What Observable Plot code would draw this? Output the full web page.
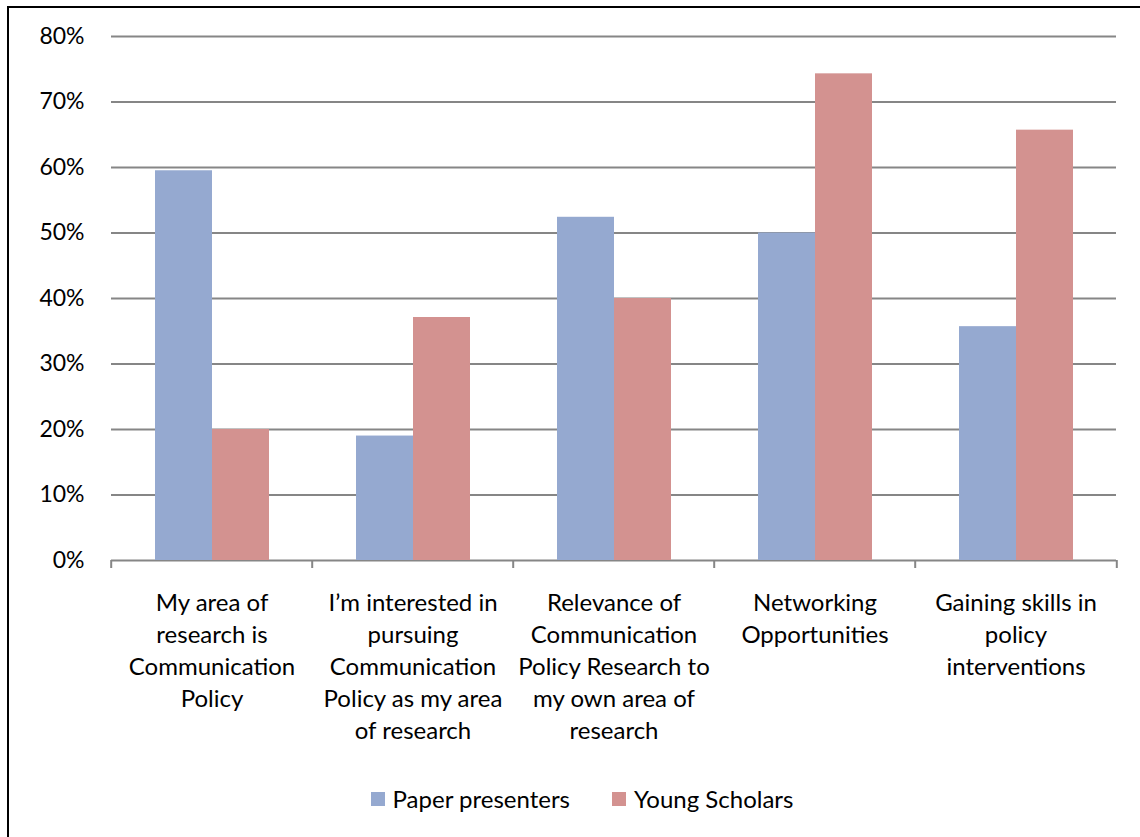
<!DOCTYPE html>
<html>
<head>
<meta charset="utf-8">
<script src="https://cdn.jsdelivr.net/npm/d3@7"></script>
<script src="https://cdn.jsdelivr.net/npm/@observablehq/plot@0.6"></script>
<style>
  html, body { margin: 0; padding: 0; background: #fff; }
  #wrap { position: relative; width: 1140px; height: 837px; overflow: hidden; font-family: Lato, "Open Sans", sans-serif; }
  #border { position: absolute; left: 7px; top: 6px; width: 1200px; height: 900px; border: 2px solid #000; box-sizing: border-box; }
  #chart { position: absolute; left: 0; top: 0; }
  #legend { position: absolute; top: 784px; left: 0; width: 1140px; display: flex; justify-content: center; gap: 42px; font-size: 24px; color: #000; padding-left: 24px; box-sizing: border-box; }
  .item { display: flex; align-items: center; gap: 8px; }
  .sw { width: 14px; height: 14px; display: inline-block; }
</style>
</head>
<body>
<div id="wrap">
  <div id="border"></div>
  <div id="chart"></div>
  <div id="legend"></div>
</div>
<script>
const categories = [
  "My area of research is Communication Policy",
  "I’m interested in pursuing Communication Policy as my area of research",
  "Relevance of Communication Policy Research to my own area of research",
  "Networking Opportunities",
  "Gaining skills in policy interventions"
];
const categoryLabels = [
  "My area of\nresearch is\nCommunication\nPolicy",
  "I’m interested in\npursuing\nCommunication\nPolicy as my area\nof research",
  "Relevance of\nCommunication\nPolicy Research to\nmy own area of\nresearch",
  "Networking\nOpportunities",
  "Gaining skills in\npolicy\ninterventions"
];
const seriesNames = ["Paper presenters", "Young Scholars"];
const paperPresenters = [0.595, 0.190, 0.524, 0.500, 0.357];
const youngScholars = [0.200, 0.371, 0.400, 0.743, 0.657];
const yTicks = [0, 0.1, 0.2, 0.3, 0.4, 0.5, 0.6, 0.7, 0.8];
const colors = ["#95A9D0", "#D39290"];

const data = [];
categories.forEach((c, i) => {
  data.push({category: c, series: seriesNames[0], value: paperPresenters[i]});
  data.push({category: c, series: seriesNames[1], value: youngScholars[i]});
});
const labelOf = new Map(categories.map((c, i) => [c, categoryLabels[i]]));

const W = 1140, H = 760, ML = 109, MR = 23;
const bandHalf = (W - ML - MR) / categories.length / 2;

const chart = Plot.plot({
  width: W,
  height: H,
  marginTop: 36,
  marginBottom: 200,
  marginLeft: ML,
  marginRight: MR,
  style: {fontFamily: "Lato, 'Open Sans', sans-serif", background: "transparent", color: "#000"},
  fx: {domain: categories, paddingInner: 0, paddingOuter: 0, label: null},
  x: {domain: seriesNames, paddingInner: 0, paddingOuter: 0.753, axis: null},
  y: {domain: [0, 0.8], label: null},
  color: {domain: seriesNames, range: colors},
  marks: [
    Plot.ruleY(yTicks, {stroke: "#868686", strokeWidth: 2}),
    Plot.barY(data, {fx: "category", x: "series", y: "value", fill: "series"}),
    Plot.axisY({ticks: yTicks, tickFormat: d3.format(".0%"), tickSize: 0, tickPadding: 27, fontSize: 23, label: null}),
    Plot.axisFx({anchor: "bottom", tickSize: 8, tickFormat: () => "", dx: -bandHalf, stroke: "#868686", strokeWidth: 2, label: null}),
    Plot.axisFx({anchor: "bottom", ticks: [categories[categories.length - 1]], tickSize: 8, tickFormat: () => "", dx: bandHalf, stroke: "#868686", strokeWidth: 2, label: null}),
    Plot.text(categories, {fx: d => d, text: d => labelOf.get(d), frameAnchor: "bottom", lineAnchor: "top", dy: 28, lineHeight: 1.333, fontSize: 24, fill: "#000"})
  ]
});
document.getElementById("chart").appendChild(chart);

const legend = document.getElementById("legend");
seriesNames.forEach((s, i) => {
  const item = document.createElement("div");
  item.className = "item";
  const sw = document.createElement("span");
  sw.className = "sw";
  sw.style.background = colors[i];
  const t = document.createElement("span");
  t.textContent = s;
  item.appendChild(sw);
  item.appendChild(t);
  legend.appendChild(item);
});
</script>
</body>
</html>
